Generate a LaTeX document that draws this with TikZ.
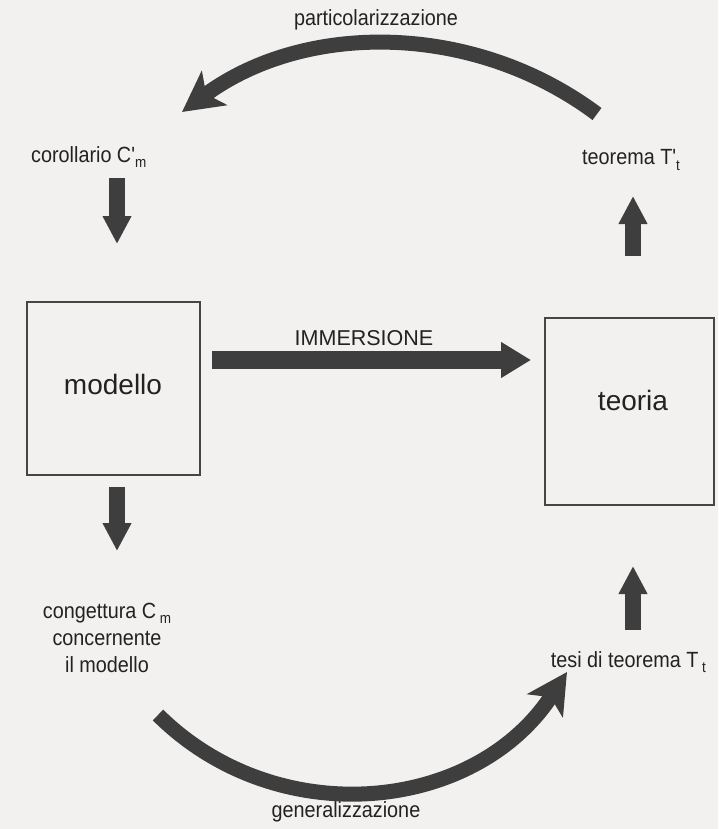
\documentclass[tikz,border=0pt]{standalone}
\usepackage{fontspec}
\setmainfont{Liberation Sans}
\newfontfamily\condfont{Liberation Sans}[FakeStretch=0.9]
\usetikzlibrary{arrows.meta}
\definecolor{paper}{HTML}{F3F1EF}
\definecolor{ink}{HTML}{3E3E3E}
\definecolor{txt}{HTML}{222222}
\definecolor{boxline}{HTML}{454545}
\newcommand{\lowsub}[1]{\raisebox{-0.45ex}{\fontsize{15}{15}\selectfont #1}}
\tikzset{
  lbl/.style={font=\condfont\fontsize{22}{27}\selectfont, text=txt, inner sep=0pt},
  caps/.style={font=\fontsize{21.5}{26}\selectfont, text=txt, inner sep=0pt},
  frame/.style={draw=boxline, line width=1.4pt, inner sep=0pt},
  boxtxt/.style={font=\fontsize{28}{32}\selectfont, text=txt, inner sep=0pt},
  vfat/.style={draw=ink, line width=16pt, -{Triangle[length=28pt,width=27pt]}},
  hfat/.style={draw=ink, line width=18pt, -{Triangle[length=30pt,width=34pt]}},
  cfat/.style={draw=ink, line width=15pt, -{Stealth[length=40pt,width=42pt,inset=10pt]}}
}
\begin{document}
\begin{tikzpicture}[x=1pt,y=-1pt]
\fill[paper] (0,0) rectangle (718,829);
\useasboundingbox (0,0) rectangle (718,829);

% labels
\node[lbl] (part) at (376,20) {particolarizzazione};
\node[lbl, anchor=west] (cor) at (31,157) {corollario C'\lowsub{m}};
\node[lbl, anchor=west] (teoP) at (582,160) {teorema T'\lowsub{t}};
\node[caps] (imm) at (364,338) {IMMERSIONE};
\node[lbl, align=center] (cong) at (107,638) {congettura C\,\lowsub{m}\\concernente\\il modello};
\node[lbl, anchor=east] (tesi) at (706,662) {tesi di teorema T\,\lowsub{t}};
\node[lbl] (gen) at (346,812) {generalizzazione};

% boxes
\node[frame, minimum width=173pt, minimum height=173pt] (modello) at (113.5,388.5) {};
\node[boxtxt] (modellotxt) at (113,384) {modello};
\node[frame, minimum width=169pt, minimum height=187pt] (teoria) at (629.5,411.5) {};
\node[boxtxt] (teoriatxt) at (633,400) {teoria};

% arrow end points
\coordinate (a1s) at (117,178); \coordinate (a1e) at (117,244);
\coordinate (a2s) at (633,256); \coordinate (a2e) at (633,196);
\coordinate (a3s) at (117,487); \coordinate (a3e) at (117,551);
\coordinate (a4s) at (633,630); \coordinate (a4e) at (633,566);
\coordinate (hs) at (212,360); \coordinate (he) at (531,360);
\coordinate (ts) at (597,114); \coordinate (te) at (182,112);
\coordinate (bs) at (158,715); \coordinate (be) at (567,672);

% straight arrows
\draw[vfat] (a1s) -- (a1e);
\draw[vfat] (a2s) -- (a2e);
\draw[vfat] (a3s) -- (a3e);
\draw[vfat] (a4s) -- (a4e);
\draw[hfat] (hs) -- (he);

% curved arrows
\draw[cfat] (ts) .. controls (474,22) and (305,21) .. (te);
\draw[cfat] (bs) .. controls (277,833) and (475,813) .. (be);
\end{tikzpicture}
\end{document}
